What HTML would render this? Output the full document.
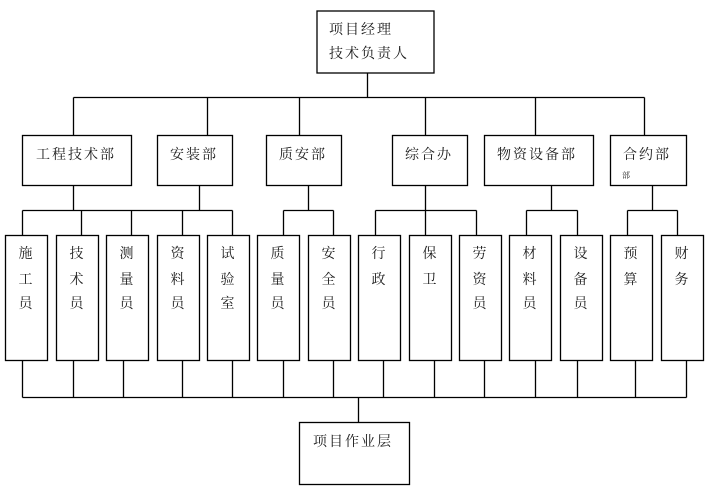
<!DOCTYPE html>
<html><head><meta charset="utf-8"><style>
html,body{margin:0;padding:0;background:#fff;}
svg{display:block;}
text{font-family:"Liberation Serif","Noto Serif CJK SC","Noto Sans CJK SC",serif;font-size:14px;fill:#1a1a1a;letter-spacing:2px;}
</style></head><body>
<svg width="711" height="493" viewBox="0 0 711 493" xmlns="http://www.w3.org/2000/svg">
<g fill="#fff" stroke="#000" stroke-width="1.3">
<!-- top -->
<rect x="317" y="11" width="117" height="62"/>
<!-- level 2 -->
<rect x="22.5" y="135.5" width="109" height="50"/>
<rect x="157.5" y="135.5" width="75" height="50"/>
<rect x="266.5" y="135.5" width="75" height="50"/>
<rect x="392.5" y="135.5" width="75" height="50"/>
<rect x="484.5" y="135.5" width="109" height="50"/>
<rect x="610.5" y="135.5" width="76" height="50"/>
<!-- level 3 -->
<rect x="5.5" y="235.5" width="42" height="125"/>
<rect x="56.5" y="235.5" width="42" height="125"/>
<rect x="106.5" y="235.5" width="42" height="125"/>
<rect x="157.5" y="235.5" width="42" height="125"/>
<rect x="207.5" y="235.5" width="42" height="125"/>
<rect x="257.5" y="235.5" width="42" height="125"/>
<rect x="308.5" y="235.5" width="42" height="125"/>
<rect x="358.5" y="235.5" width="42" height="125"/>
<rect x="409.5" y="235.5" width="42" height="125"/>
<rect x="459.5" y="235.5" width="42" height="125"/>
<rect x="509.5" y="235.5" width="42" height="125"/>
<rect x="560.5" y="235.5" width="42" height="125"/>
<rect x="610.5" y="235.5" width="42" height="125"/>
<rect x="661.5" y="235.5" width="42" height="125"/>
<!-- bottom -->
<rect x="299.5" y="422.5" width="110" height="62"/>
</g>
<g fill="none" stroke="#000" stroke-width="1.3">
<!-- top to level2 -->
<path d="M367.5 73V97.5M73.5 97.5H644.5M73.5 97.5V135.5M207.5 97.5V135.5M299.5 97.5V135.5M425.5 97.5V135.5M535.5 97.5V135.5M644.5 97.5V135.5"/>
<!-- level2 to level3 -->
<path d="M73.5 185.5V210.5M199.5 185.5V210.5M22.5 210.5H232.5M22.5 210.5V235.5M81.5 210.5V235.5M131.5 210.5V235.5M182.5 210.5V235.5M232.5 210.5V235.5"/>
<path d="M308.5 185.5V210.5M283.5 210.5H333.5M283.5 210.5V235.5M333.5 210.5V235.5"/>
<path d="M425.5 185.5V210.5M375.5 210.5H476.5M375.5 210.5V235.5M425.5 210.5V235.5M476.5 210.5V235.5"/>
<path d="M551.5 185.5V210.5M526.5 210.5H577.5M526.5 210.5V235.5M577.5 210.5V235.5"/>
<path d="M652.5 185.5V210.5M627.5 210.5H677.5M627.5 210.5V235.5M677.5 210.5V235.5"/>
<!-- level3 to bottom -->
<path d="M22.5 397.5H686.5M22.5 360.5V397.5M73.5 360.5V397.5M123.5 360.5V397.5M182.5 360.5V397.5M232.5 360.5V397.5M283.5 360.5V397.5M333.5 360.5V397.5M383.5 360.5V397.5M434.5 360.5V397.5M484.5 360.5V397.5M535.5 360.5V397.5M577.5 360.5V397.5M635.5 360.5V397.5M686.5 360.5V397.5M358.5 397.5V422.5"/>
</g>
<g>
<text x="329" y="34">项目经理</text>
<text x="329" y="58">技术负责人</text>
<text x="36" y="159">工程技术部</text>
<text x="170" y="159">安装部</text>
<text x="279" y="159">质安部</text>
<text x="405" y="159">综合办</text>
<text x="497" y="159">物资设备部</text>
<text x="623" y="159">合约部</text>
<text x="622" y="178" style="font-size:8px;letter-spacing:0">部</text>
<text x="313" y="446">项目作业层</text>
</g>
<g text-anchor="middle" style="letter-spacing:0">
<text x="26.5" y="258">施</text><text x="26.5" y="284">工</text><text x="26.5" y="308">员</text>
<text x="77.5" y="258">技</text><text x="77.5" y="284">术</text><text x="77.5" y="308">员</text>
<text x="127.5" y="258">测</text><text x="127.5" y="284">量</text><text x="127.5" y="308">员</text>
<text x="178.5" y="258">资</text><text x="178.5" y="284">料</text><text x="178.5" y="308">员</text>
<text x="228.5" y="258">试</text><text x="228.5" y="284">验</text><text x="228.5" y="308">室</text>
<text x="278.5" y="258">质</text><text x="278.5" y="284">量</text><text x="278.5" y="308">员</text>
<text x="329.5" y="258">安</text><text x="329.5" y="284">全</text><text x="329.5" y="308">员</text>
<text x="379.5" y="258">行</text><text x="379.5" y="284">政</text>
<text x="430.5" y="258">保</text><text x="430.5" y="284">卫</text>
<text x="480.5" y="258">劳</text><text x="480.5" y="284">资</text><text x="480.5" y="308">员</text>
<text x="530.5" y="258">材</text><text x="530.5" y="284">料</text><text x="530.5" y="308">员</text>
<text x="581.5" y="258">设</text><text x="581.5" y="284">备</text><text x="581.5" y="308">员</text>
<text x="631.5" y="258">预</text><text x="631.5" y="284">算</text>
<text x="682.5" y="258">财</text><text x="682.5" y="284">务</text>
</g>
</svg>
</body></html>
